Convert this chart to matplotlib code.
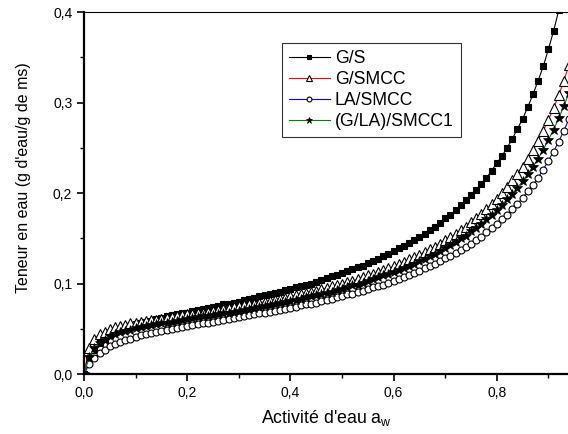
import matplotlib
matplotlib.use("Agg")
import matplotlib.pyplot as plt
from matplotlib.ticker import MultipleLocator, FuncFormatter

plt.rcParams['font.family'] = ['Liberation Sans', 'DejaVu Sans']
plt.rcParams['mathtext.fontset'] = 'custom'
plt.rcParams['mathtext.rm'] = 'Liberation Sans'

# water activity
aw = [0.00, 0.01, 0.02, 0.03, 0.04, 0.05, 0.06, 0.07, 0.08, 0.09,
      0.10, 0.11, 0.12, 0.13, 0.14, 0.15, 0.16, 0.17, 0.18, 0.19,
      0.20, 0.21, 0.22, 0.23, 0.24, 0.25, 0.26, 0.27, 0.28, 0.29,
      0.30, 0.31, 0.32, 0.33, 0.34, 0.35, 0.36, 0.37, 0.38, 0.39,
      0.40, 0.41, 0.42, 0.43, 0.44, 0.45, 0.46, 0.47, 0.48, 0.49,
      0.50, 0.51, 0.52, 0.53, 0.54, 0.55, 0.56, 0.57, 0.58, 0.59,
      0.60, 0.61, 0.62, 0.63, 0.64, 0.65, 0.66, 0.67, 0.68, 0.69,
      0.70, 0.71, 0.72, 0.73, 0.74, 0.75, 0.76, 0.77, 0.78, 0.79,
      0.80, 0.81, 0.82, 0.83, 0.84, 0.85, 0.86, 0.87, 0.88, 0.89,
      0.90, 0.91, 0.92, 0.93, 0.94, 0.95]

# water content (g water / g dry matter)
gs = [0.000, 0.017, 0.027, 0.034, 0.039, 0.043, 0.046, 0.049, 0.051, 0.053,
      0.055, 0.056, 0.058, 0.059, 0.061, 0.062, 0.064, 0.065, 0.066, 0.067,
      0.068, 0.070, 0.071, 0.072, 0.073, 0.074, 0.075, 0.077, 0.078, 0.079,
      0.080, 0.082, 0.083, 0.084, 0.086, 0.087, 0.088, 0.090, 0.091, 0.093,
      0.094, 0.096, 0.097, 0.099, 0.100, 0.102, 0.104, 0.106, 0.108, 0.110,
      0.112, 0.114, 0.116, 0.118, 0.120, 0.123, 0.125, 0.127, 0.130, 0.133,
      0.136, 0.139, 0.142, 0.145, 0.148, 0.152, 0.155, 0.159, 0.163, 0.167,
      0.172, 0.176, 0.181, 0.187, 0.192, 0.198, 0.204, 0.210, 0.217, 0.225,
      0.233, 0.241, 0.250, 0.260, 0.271, 0.282, 0.295, 0.309, 0.324, 0.340,
      0.359, 0.379, 0.402, 0.428, 0.457, 0.490]

gsmcc = [0.000, 0.029, 0.039, 0.044, 0.047, 0.050, 0.052, 0.053, 0.054, 0.056,
         0.057, 0.058, 0.059, 0.060, 0.060, 0.061, 0.062, 0.063, 0.064, 0.065,
         0.066, 0.066, 0.067, 0.068, 0.069, 0.070, 0.071, 0.072, 0.073, 0.074,
         0.075, 0.076, 0.077, 0.078, 0.079, 0.080, 0.081, 0.082, 0.083, 0.084,
         0.086, 0.087, 0.088, 0.090, 0.091, 0.092, 0.094, 0.095, 0.097, 0.098,
         0.100, 0.102, 0.103, 0.105, 0.107, 0.109, 0.111, 0.113, 0.115, 0.117,
         0.119, 0.122, 0.124, 0.127, 0.129, 0.132, 0.135, 0.138, 0.141, 0.144,
         0.148, 0.151, 0.155, 0.159, 0.163, 0.168, 0.172, 0.177, 0.182, 0.188,
         0.194, 0.200, 0.207, 0.214, 0.221, 0.229, 0.238, 0.248, 0.258, 0.269,
         0.281, 0.294, 0.308, 0.324, 0.342, 0.362]

lasmcc = [0.000, 0.011, 0.018, 0.023, 0.027, 0.031, 0.033, 0.036, 0.038, 0.039,
          0.041, 0.043, 0.044, 0.045, 0.046, 0.048, 0.049, 0.050, 0.051, 0.052,
          0.053, 0.054, 0.055, 0.056, 0.057, 0.058, 0.059, 0.060, 0.061, 0.062,
          0.063, 0.064, 0.065, 0.066, 0.067, 0.068, 0.069, 0.070, 0.071, 0.072,
          0.073, 0.074, 0.076, 0.077, 0.078, 0.079, 0.081, 0.082, 0.083, 0.085,
          0.086, 0.088, 0.089, 0.091, 0.092, 0.094, 0.096, 0.097, 0.099, 0.101,
          0.103, 0.105, 0.107, 0.110, 0.112, 0.114, 0.117, 0.119, 0.122, 0.125,
          0.128, 0.131, 0.134, 0.137, 0.141, 0.144, 0.148, 0.152, 0.157, 0.161,
          0.166, 0.171, 0.176, 0.182, 0.188, 0.195, 0.202, 0.209, 0.217, 0.226,
          0.236, 0.246, 0.257, 0.269, 0.282, 0.297]

glasmcc = [0.000, 0.019, 0.029, 0.034, 0.038, 0.042, 0.044, 0.046, 0.048, 0.049,
           0.051, 0.052, 0.053, 0.054, 0.055, 0.056, 0.057, 0.058, 0.059, 0.060,
           0.061, 0.062, 0.063, 0.064, 0.064, 0.065, 0.066, 0.067, 0.068, 0.069,
           0.070, 0.071, 0.072, 0.073, 0.074, 0.075, 0.076, 0.077, 0.079, 0.080,
           0.081, 0.082, 0.083, 0.085, 0.086, 0.087, 0.089, 0.090, 0.091, 0.093,
           0.094, 0.096, 0.098, 0.099, 0.101, 0.103, 0.105, 0.107, 0.109, 0.111,
           0.113, 0.115, 0.117, 0.120, 0.122, 0.125, 0.127, 0.130, 0.133, 0.136,
           0.139, 0.143, 0.146, 0.150, 0.153, 0.158, 0.162, 0.166, 0.171, 0.176,
           0.181, 0.187, 0.193, 0.199, 0.206, 0.213, 0.221, 0.229, 0.238, 0.248,
           0.259, 0.270, 0.283, 0.296, 0.311, 0.328]

labels = ["G/S", "G/SMCC", "LA/SMCC", "(G/LA)/SMCC1"]


def comma(v, pos):
    return ("%.1f" % v).replace(".", ",")


def plot_isotherms():
    fig = plt.figure(figsize=(5.68, 4.34), dpi=100)
    ax = fig.add_axes([0.148, 0.138, 0.852, 0.834])

    ax.plot(aw, gs, "-", color="black", marker="s", ms=4.5, mfc="black",
            mec="black", mew=0.8, lw=0.8, label=labels[0])
    ax.plot(aw, gsmcc, "-", color="red", marker="^", ms=7, mfc="white",
            mec="black", mew=0.8, lw=0.8, label=labels[1])
    ax.plot(aw, lasmcc, "-", color="blue", marker="o", ms=5, mfc="white",
            mec="black", mew=0.8, lw=0.8, label=labels[2])
    ax.plot(aw, glasmcc, "-", color="green", marker="*", ms=7, mfc="black",
            mec="black", mew=0.5, lw=0.8, label=labels[3])

    ax.set_xlim(0, 0.938)
    ax.set_ylim(0, 0.4)
    ax.xaxis.set_major_locator(MultipleLocator(0.2))
    ax.xaxis.set_minor_locator(MultipleLocator(0.1))
    ax.yaxis.set_major_locator(MultipleLocator(0.1))
    ax.yaxis.set_minor_locator(MultipleLocator(0.05))
    ax.xaxis.set_major_formatter(FuncFormatter(comma))
    ax.yaxis.set_major_formatter(FuncFormatter(comma))
    ax.tick_params(which="major", direction="out", length=5, width=1.2, labelsize=10)
    ax.tick_params(which="minor", direction="out", length=3, width=1.0)

    ax.spines["right"].set_visible(False)
    ax.spines["left"].set_linewidth(1.6)
    ax.spines["bottom"].set_linewidth(1.6)
    ax.spines["top"].set_linewidth(0.8)

    ax.set_xlabel("Activité d'eau a$_\\mathrm{w}$", fontsize=12.8, labelpad=6)
    ax.set_ylabel("Teneur en eau (g d'eau/g de ms)", fontsize=11.5)
    ax.yaxis.set_label_coords(-0.11, 0.544)

    leg = ax.legend(loc="upper left", bbox_to_anchor=(0.409, 0.914), borderaxespad=0,
                    fontsize=12.7, frameon=True, fancybox=False, edgecolor="black",
                    markerscale=0.7, handlelength=2.3, handletextpad=0.3,
                    labelspacing=0.22, borderpad=0.4)
    leg.get_frame().set_linewidth(0.8)

    fig.savefig("out.png")


def main():
    plot_isotherms()


if __name__ == "__main__":
    main()
